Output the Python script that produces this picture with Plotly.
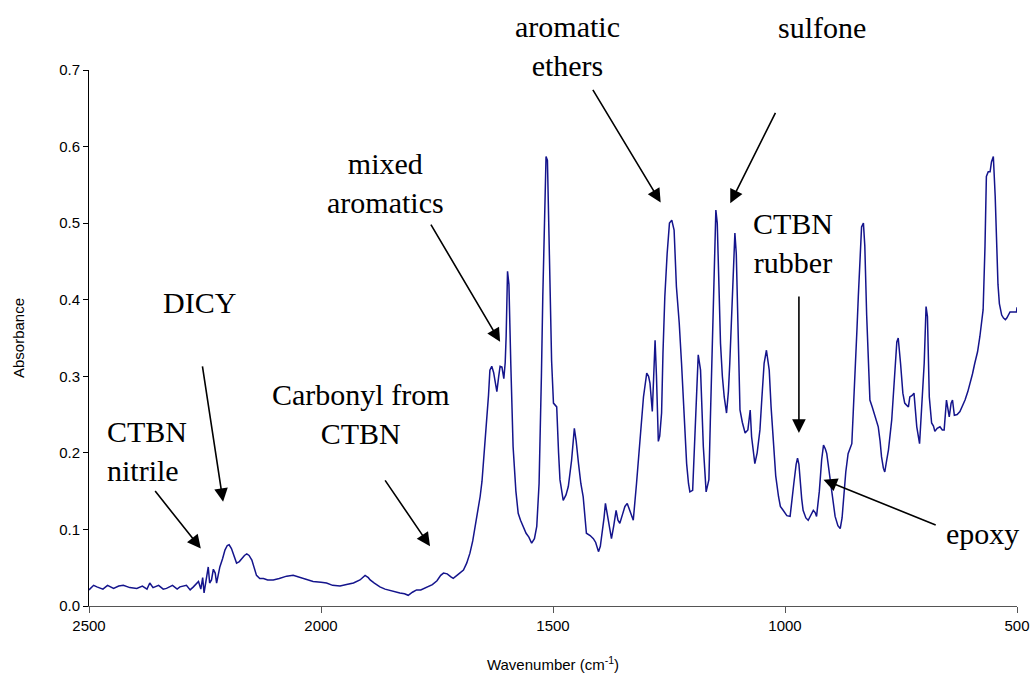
import plotly.graph_objects as go

# Wavenumber (cm-1) and absorbance
wavenumber = [
    2500, 2490, 2483, 2470, 2460, 2447, 2436, 2426, 2412, 2397, 2385, 2375, 2369, 2362, 2350, 2340,
    2333, 2320, 2310, 2304, 2290, 2282, 2275, 2268, 2264, 2259, 2255, 2252, 2249, 2246, 2243, 2240,
    2236, 2232, 2228, 2225, 2221, 2218, 2212, 2207, 2202, 2198, 2193, 2188, 2182, 2176, 2171, 2165,
    2160, 2155, 2149, 2144, 2139, 2132, 2124, 2115, 2103, 2090, 2074, 2060, 2045, 2030, 2017, 2000,
    1988, 1975, 1959, 1945, 1930, 1916, 1905, 1898, 1894, 1885, 1873, 1862, 1851, 1840, 1830, 1820,
    1812, 1803, 1794, 1785, 1772, 1760, 1750, 1742, 1736, 1728, 1720, 1715, 1705, 1693, 1686, 1679,
    1673, 1668, 1662, 1657, 1653, 1650, 1646, 1643, 1639, 1636, 1632, 1628, 1624, 1621, 1617, 1614,
    1610, 1606, 1603, 1601, 1598, 1595, 1591, 1586, 1580, 1575, 1570, 1564, 1558, 1552, 1546, 1540,
    1535, 1530, 1528, 1525, 1522, 1518, 1515, 1512, 1509, 1507, 1503, 1499, 1492, 1488, 1485, 1478,
    1472, 1467, 1460, 1454, 1450, 1445, 1440, 1435, 1430, 1428, 1420, 1413, 1408, 1402, 1398, 1395,
    1390, 1387, 1383, 1378, 1374, 1369, 1364, 1360, 1356, 1350, 1345, 1340, 1335, 1327, 1320, 1313,
    1308, 1305, 1298, 1294, 1291, 1286, 1283, 1280, 1277, 1273, 1270, 1266, 1263, 1259, 1254, 1249,
    1244, 1239, 1234, 1228, 1223, 1218, 1212, 1208, 1205, 1199, 1194, 1190, 1187, 1182, 1179, 1176,
    1170, 1164, 1161, 1158, 1153, 1149, 1146, 1144, 1139, 1135, 1131, 1126, 1122, 1119, 1111, 1108,
    1105, 1103, 1100, 1097, 1092, 1086, 1080, 1075, 1072, 1065, 1060, 1054, 1050, 1045, 1040, 1034,
    1030, 1025, 1020, 1014, 1010, 1004, 996, 989, 985, 981, 976, 973, 970, 968, 964, 961,
    955, 950, 945, 939, 935, 932, 926, 921, 917, 913, 910, 905, 900, 895, 892, 886,
    881, 877, 874, 869, 864, 860, 856, 853, 849, 845, 842, 838, 835, 831, 828, 824,
    820, 817, 812, 806, 799, 795, 792, 788, 785, 781, 777, 770, 766, 763, 759, 756,
    753, 751, 746, 742, 739, 734, 731, 726, 722, 719, 716, 710, 706, 700, 696, 693,
    689, 684, 680, 677, 672, 666, 661, 657, 652, 649, 646, 642, 639, 635, 629, 623,
    618, 612, 606, 601, 596, 591, 585, 580, 576, 573, 569, 566, 562, 558, 555, 551,
    547, 544, 541, 538, 533, 529, 525, 522, 518, 515, 508, 501, 500,
]
absorbance = [
    0.021, 0.027, 0.025, 0.022, 0.027, 0.023, 0.026, 0.027, 0.024, 0.023, 0.026, 0.022, 0.030, 0.024, 0.027, 0.022,
    0.023, 0.027, 0.022, 0.025, 0.027, 0.021, 0.025, 0.030, 0.032, 0.022, 0.037, 0.017, 0.030, 0.040, 0.051, 0.030,
    0.034, 0.048, 0.043, 0.030, 0.045, 0.051, 0.062, 0.073, 0.079, 0.080, 0.075, 0.065, 0.056, 0.058, 0.062, 0.066,
    0.068, 0.066, 0.060, 0.050, 0.040, 0.036, 0.036, 0.034, 0.034, 0.036, 0.039, 0.040, 0.037, 0.034, 0.032, 0.031,
    0.030, 0.027, 0.026, 0.028, 0.030, 0.034, 0.040, 0.037, 0.034, 0.030, 0.025, 0.022, 0.020, 0.019, 0.017, 0.016,
    0.014, 0.018, 0.021, 0.021, 0.025, 0.028, 0.033, 0.040, 0.043, 0.042, 0.038, 0.036, 0.041, 0.047, 0.056, 0.069,
    0.085, 0.104, 0.122, 0.143, 0.163, 0.186, 0.215, 0.243, 0.275, 0.308, 0.313, 0.305, 0.288, 0.280, 0.300, 0.313,
    0.312, 0.297, 0.318, 0.352, 0.437, 0.420, 0.317, 0.208, 0.150, 0.121, 0.112, 0.104, 0.095, 0.090, 0.082, 0.088,
    0.104, 0.160, 0.208, 0.300, 0.404, 0.520, 0.587, 0.582, 0.500, 0.404, 0.320, 0.265, 0.260, 0.200, 0.165, 0.138,
    0.145, 0.156, 0.190, 0.232, 0.215, 0.186, 0.160, 0.143, 0.110, 0.095, 0.092, 0.088, 0.083, 0.071, 0.078, 0.091,
    0.115, 0.134, 0.120, 0.098, 0.088, 0.105, 0.125, 0.112, 0.108, 0.120, 0.130, 0.134, 0.125, 0.112, 0.160, 0.212,
    0.250, 0.273, 0.304, 0.300, 0.291, 0.254, 0.300, 0.347, 0.300, 0.215, 0.222, 0.252, 0.330, 0.404, 0.460, 0.500,
    0.504, 0.491, 0.417, 0.370, 0.317, 0.250, 0.186, 0.160, 0.149, 0.151, 0.230, 0.290, 0.328, 0.308, 0.260, 0.208,
    0.149, 0.165, 0.240, 0.317, 0.448, 0.517, 0.500, 0.456, 0.343, 0.300, 0.273, 0.252, 0.280, 0.317, 0.448, 0.487,
    0.460, 0.404, 0.320, 0.256, 0.240, 0.226, 0.230, 0.256, 0.221, 0.186, 0.200, 0.230, 0.270, 0.317, 0.334, 0.308,
    0.260, 0.208, 0.170, 0.143, 0.130, 0.125, 0.118, 0.117, 0.135, 0.160, 0.185, 0.193, 0.185, 0.165, 0.140, 0.125,
    0.115, 0.112, 0.118, 0.125, 0.122, 0.117, 0.150, 0.191, 0.210, 0.205, 0.199, 0.175, 0.158, 0.130, 0.117, 0.105,
    0.101, 0.115, 0.143, 0.175, 0.199, 0.205, 0.212, 0.252, 0.317, 0.360, 0.404, 0.460, 0.495, 0.500, 0.470, 0.380,
    0.317, 0.269, 0.260, 0.247, 0.234, 0.215, 0.195, 0.180, 0.175, 0.190, 0.204, 0.243, 0.280, 0.317, 0.345, 0.350,
    0.335, 0.317, 0.278, 0.265, 0.263, 0.260, 0.273, 0.275, 0.278, 0.255, 0.234, 0.212, 0.252, 0.317, 0.391, 0.378,
    0.273, 0.239, 0.235, 0.228, 0.232, 0.234, 0.230, 0.230, 0.269, 0.255, 0.247, 0.265, 0.269, 0.249, 0.250, 0.254,
    0.260, 0.269, 0.280, 0.291, 0.303, 0.317, 0.332, 0.352, 0.370, 0.387, 0.469, 0.561, 0.567, 0.567, 0.580, 0.587,
    0.535, 0.469, 0.420, 0.395, 0.380, 0.376, 0.374, 0.376, 0.382, 0.384, 0.384, 0.384, 0.390,
]

y_max = 0.7

# Band labels: text, text position (wavenumber, absorbance), alignment
label_texts = ["CTBN<br>nitrile", "DICY", "Carbonyl from<br>CTBN", "mixed<br>aromatics",
               "aromatic<br>ethers", "sulfone", "CTBN<br>rubber", "epoxy"]
label_wn = [2466, 2261, 1914, 1862, 1468, 920, 983, 574]
label_abs = [0.203, 0.396, 0.251, 0.552, 0.731, 0.756, 0.474, 0.095]
label_anchor = ["left", "center", "center", "center", "center", "center", "center", "center"]

# Arrow tails and heads (wavenumber, absorbance)
arrow_tail_wn = [2360, 2256, 1864, 1765, 1416, 1019, 970, 672]
arrow_tail_abs = [0.152, 0.315, 0.166, 0.500, 0.676, 0.646, 0.406, 0.105]
arrow_head_wn = [2259, 2211, 1765, 1614, 1268, 1118, 970, 917]
arrow_head_abs = [0.075, 0.136, 0.078, 0.345, 0.527, 0.526, 0.226, 0.165]

fig = go.Figure()
fig.add_trace(go.Scatter(
    x=wavenumber, y=absorbance, mode="lines",
    line=dict(color="#14148c", width=1.5), showlegend=False, hoverinfo="skip",
))

annotations = []
for t, x, y, a in zip(label_texts, label_wn, label_abs, label_anchor):
    annotations.append(dict(
        x=x, y=y / y_max, xref="x", yref="paper", text=t, showarrow=False,
        xanchor=a, yanchor="middle", align=a,
        font=dict(family="Liberation Serif, Times New Roman, serif", size=30, color="black"),
    ))
for tx, ty, hx, hy in zip(arrow_tail_wn, arrow_tail_abs, arrow_head_wn, arrow_head_abs):
    annotations.append(dict(
        x=hx, y=hy, ax=tx, ay=ty, xref="x", yref="y", axref="x", ayref="y",
        text="", showarrow=True, arrowhead=2, arrowsize=1.7, arrowwidth=1.6,
        arrowcolor="black", standoff=0,
    ))

fig.update_layout(
    width=1035, height=681,
    margin=dict(l=89, r=18, t=70, b=75, autoexpand=False),
    paper_bgcolor="white", plot_bgcolor="white",
    font=dict(family="Liberation Sans, Arial, sans-serif", size=15, color="black"),
    annotations=annotations,
    xaxis=dict(
        range=[2500, 500], tickvals=[2500, 2000, 1500, 1000, 500],
        showgrid=False, zeroline=False, showline=True, linecolor="#555555", linewidth=1,
        ticks="outside", ticklen=6, tickcolor="#555555", automargin=False,
        title=dict(text="Wavenumber (cm<sup>-1</sup>)", font=dict(size=15), standoff=26),
        tickfont=dict(size=15),
    ),
    yaxis=dict(
        range=[0, y_max], dtick=0.1, tickformat=".1f",
        showgrid=False, zeroline=False, showline=True, linecolor="black", linewidth=1,
        ticks="outside", ticklen=5, tickcolor="black", automargin=False,
        title=dict(text="Absorbance", font=dict(size=15), standoff=30),
        tickfont=dict(size=15),
    ),
)

fig.write_html("out.html")
